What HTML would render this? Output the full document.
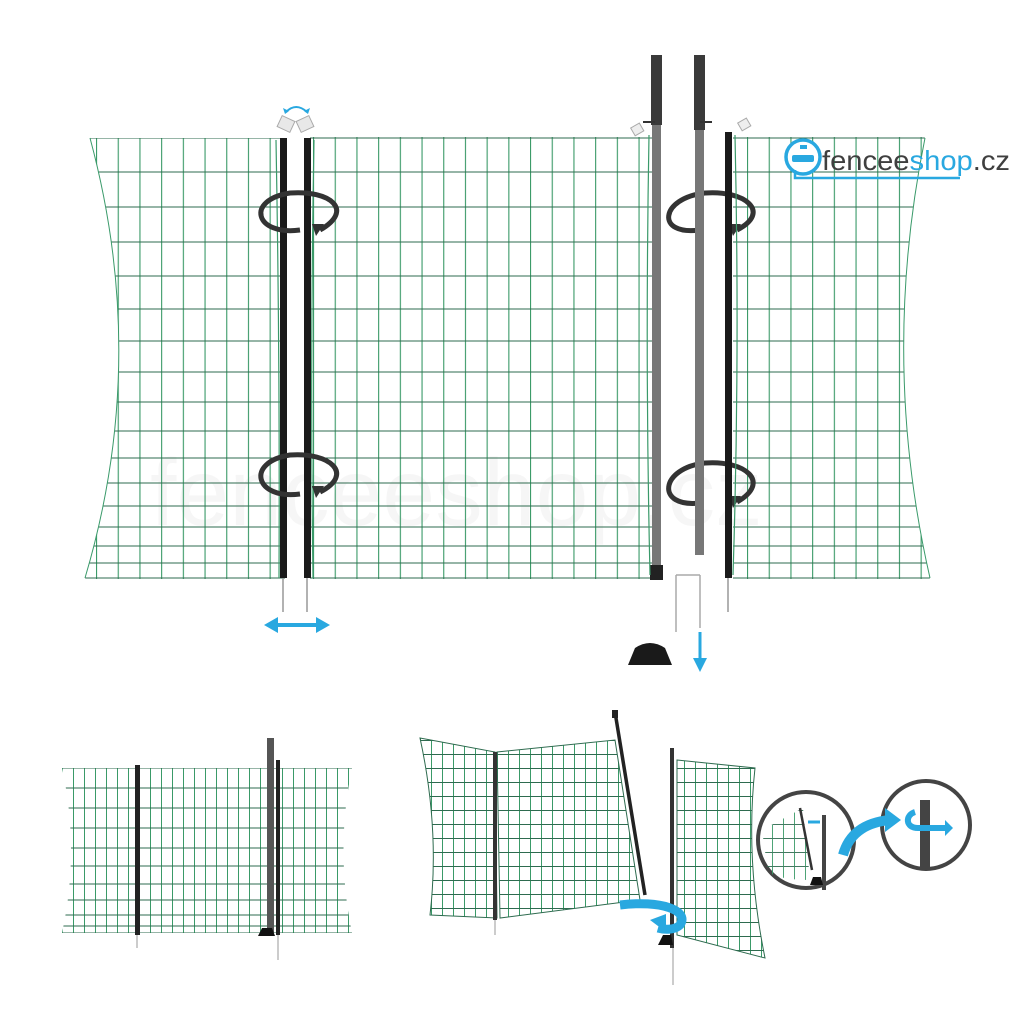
<!DOCTYPE html>
<html><head><meta charset="utf-8"><style>html,body{margin:0;padding:0;background:#fff}svg{display:block}</style></head><body>
<svg width="1024" height="1024" viewBox="0 0 1024 1024" xmlns="http://www.w3.org/2000/svg">
<defs>
<pattern id="v1" x="96" y="0" width="21.7" height="1024" patternUnits="userSpaceOnUse"><rect x="0" y="0" width="1.1" height="1024" fill="#3a9a68"/></pattern>
<pattern id="v2" x="62" y="0" width="11" height="1024" patternUnits="userSpaceOnUse"><rect x="0" y="0" width="1" height="1024" fill="#3a9a68"/></pattern>
<pattern id="g3" x="420" y="740" width="11" height="14" patternUnits="userSpaceOnUse"><rect width="1" height="14" fill="#3a9a68"/><rect width="11" height="1" fill="#2e6b4f"/></pattern>
<clipPath id="c1"><path d="M90,138 L285,138 L285,579 L85,579 Q150,360 90,138Z"/></clipPath>
<clipPath id="c2"><path d="M310,137 L652,137 L652,579 L310,579Z"/></clipPath>
<clipPath id="c3"><path d="M733,137 L925,137 Q880,360 930,579 L733,579Z"/></clipPath>
<clipPath id="c4"><path d="M62,768 L352,768 Q335,850 352,933 L62,933 Q80,850 62,768Z"/></clipPath>
<path id="rowsP" d="M60,138H960M60,172H960M60,207H960M60,242H960M60,276H960M60,309H960M60,341H960M60,372H960M60,402H960M60,431H960M60,458H960M60,483H960M60,506H960M60,527H960M60,546H960M60,563H960M60,578H960" stroke="#2e6b4f" stroke-width="1.1"/>
</defs>
<rect width="1024" height="1024" fill="#fff"/>
<text x="150" y="525" font-family="Liberation Sans, sans-serif" font-size="95" fill="#000" opacity="0.03">fenceeshop.cz</text>
<g clip-path="url(#c1)"><rect x="80" y="130" width="210" height="460" fill="url(#v1)"/><use href="#rowsP"/></g>
<g clip-path="url(#c2)"><rect x="300" y="130" width="360" height="460" fill="url(#v1)"/><use href="#rowsP"/></g>
<g clip-path="url(#c3)"><rect x="730" y="130" width="210" height="460" fill="url(#v1)"/><use href="#rowsP"/></g>
<path d="M90,138 Q150,360 85,578 M925,138 Q880,360 930,578" stroke="#3a9a6a" fill="none"/>
<!-- left poles -->
<rect x="280" y="138" width="7" height="440" fill="#1a1a1a"/>
<rect x="304" y="138" width="7" height="440" fill="#1a1a1a"/>
<path d="M283,578V612M307,578V612" stroke="#999" stroke-width="1.5"/>
<path d="M276,140 Q280,360 279,578 M314,140 Q310,360 313,578" stroke="#3a9a6a" stroke-width="1.2" fill="none"/>
<rect x="279" y="118" width="14" height="12" fill="#e8e8e8" stroke="#aaa" transform="rotate(25 286 124)"/>
<rect x="298" y="118" width="14" height="12" fill="#e8e8e8" stroke="#aaa" transform="rotate(-25 305 124)"/>
<path d="M286,112 Q296,102 307,112" stroke="#29a8e0" stroke-width="2" fill="none"/>
<path d="M283,108l2,6 4,-3z M310,108l-2,6 -4,-3z" fill="#29a8e0"/>
<g fill="none" stroke="#333" stroke-width="5">
<path d="M300,230 C255,236 245,200 290,193 C330,190 355,210 320,230"/>
<path d="M300,494 C255,500 245,462 290,455 C330,452 355,474 320,492"/>
<path d="M700,230 C655,236 660,198 705,193 C745,190 772,212 737,230"/>
<path d="M700,503 C655,508 660,468 705,463 C745,460 772,482 737,502"/>
</g>
<path d="M312,224l12,0 -8,12z M312,486l12,0 -8,12z M729,224l12,0 -8,12z M729,496l12,0 -8,12z" fill="#333"/>
<rect x="651" y="55" width="11" height="70" fill="#3a3a3a"/>
<rect x="652" y="125" width="9" height="442" fill="#777"/>
<rect x="650" y="565" width="13" height="15" fill="#222"/>
<rect x="694" y="55" width="11" height="75" fill="#3a3a3a"/>
<rect x="695" y="130" width="9" height="425" fill="#777"/>
<path d="M643,122h12M700,122h12" stroke="#333" stroke-width="2"/>
<rect x="725" y="132" width="7" height="446" fill="#1a1a1a"/>
<path d="M728,578V612" stroke="#999" stroke-width="1.5"/>
<path d="M649,135 Q645,360 650,575 M735,135 Q740,360 733,575" stroke="#3a9a6a" stroke-width="1.2" fill="none"/>
<rect x="632" y="125" width="10" height="9" fill="#eee" stroke="#aaa" transform="rotate(-30 637 129)"/>
<rect x="739" y="120" width="10" height="9" fill="#eee" stroke="#aaa" transform="rotate(-30 744 124)"/>
<path d="M676,575V632 M676,575H700 M700,575V628" stroke="#aaa" stroke-width="1.5" fill="none"/>
<path d="M628,665 L635,648 Q650,638 665,648 L672,665Z" fill="#1a1a1a"/>
<path d="M275,625H318" stroke="#29a8e0" stroke-width="4"/>
<path d="M264,625l14,-8v16z M330,625l-14,-8v16z" fill="#29a8e0"/>
<path d="M700,632V660" stroke="#29a8e0" stroke-width="3"/>
<path d="M693,658h14l-7,14z" fill="#29a8e0"/>
<!-- logo -->
<circle cx="803" cy="157" r="17" fill="#fff" stroke="#29a8e0" stroke-width="3.5"/>
<rect x="792" y="155" width="22" height="7" rx="2" fill="#29a8e0"/>
<rect x="800" y="145" width="7" height="4" fill="#29a8e0"/>
<path d="M795,170V178H960" stroke="#29a8e0" stroke-width="2.5" fill="none"/>
<text x="822" y="170" font-family="Liberation Sans, sans-serif" font-size="28" fill="#3f3f3f" textLength="188" lengthAdjust="spacingAndGlyphs">fencee<tspan fill="#29a8e0">shop</tspan>.cz</text>
<!-- bottom left diagram -->
<g clip-path="url(#c4)"><rect x="55" y="760" width="305" height="180" fill="url(#v2)"/>
<path d="M50,768H360M50,788H360M50,808H360M50,828H360M50,848H360M50,866H360M50,884H360M50,900H360M50,915H360M50,926H360M50,933H360" stroke="#2e6b4f" stroke-width="1"/></g>
<rect x="135" y="765" width="5" height="170" fill="#222"/>
<path d="M137,935V948M278,935V960" stroke="#999"/>
<rect x="267" y="738" width="7" height="195" fill="#555"/>
<rect x="276" y="760" width="4" height="175" fill="#222"/>
<path d="M258,936l4,-8h10l3,8z" fill="#111"/>
<!-- bottom middle -->
<path d="M420,738 L495,752 L497,918 L430,915 Q440,830 420,738Z" fill="url(#g3)" stroke="#2e6b4f"/>
<path d="M497,752 L615,740 L640,900 L500,918Z" fill="url(#g3)" stroke="#2e6b4f"/>
<path d="M677,760 L755,768 Q745,860 765,958 L677,935Z" fill="url(#g3)" stroke="#2e6b4f"/>
<rect x="493" y="752" width="4" height="168" fill="#333"/>
<path d="M495,920V935M673,948V985" stroke="#999"/>
<path d="M615,712 L645,895" stroke="#222" stroke-width="3.5"/>
<rect x="612" y="710" width="6" height="8" fill="#222"/>
<rect x="670" y="748" width="4" height="200" fill="#333"/>
<path d="M658,945l5,-10h8l2,10z" fill="#111"/>
<path d="M620,905 C660,900 690,910 680,925 C675,930 665,930 658,928" stroke="#29a8e0" stroke-width="9" fill="none"/>
<path d="M650,920l16,-6v18z" fill="#29a8e0"/>
<!-- insets -->
<circle cx="806" cy="840" r="48" fill="#fff" stroke="#444" stroke-width="4"/>
<path d="M762,830 L803,808 L810,880 Q780,880 768,872Z" fill="url(#g3)" opacity="0.9"/>
<path d="M800,808 L812,870" stroke="#333" stroke-width="2.5"/>
<rect x="822" y="815" width="4" height="75" fill="#444"/>
<path d="M810,885l3,-8h8l2,8z" fill="#111"/>
<path d="M808,822h12" stroke="#29a8e0" stroke-width="3"/>
<circle cx="926" cy="825" r="44" fill="#fff" stroke="#444" stroke-width="4"/>
<rect x="920" y="800" width="10" height="68" fill="#444"/>
<path d="M915,812 C905,815 905,828 918,828 H945" stroke="#29a8e0" stroke-width="6" fill="none"/>
<path d="M945,820l8,8-8,8z" fill="#29a8e0"/>
<path d="M843,855 C850,830 870,822 890,820" stroke="#29a8e0" stroke-width="10" fill="none"/>
<path d="M885,808l16,12-16,12z" fill="#29a8e0"/>
</svg>
</body></html>
